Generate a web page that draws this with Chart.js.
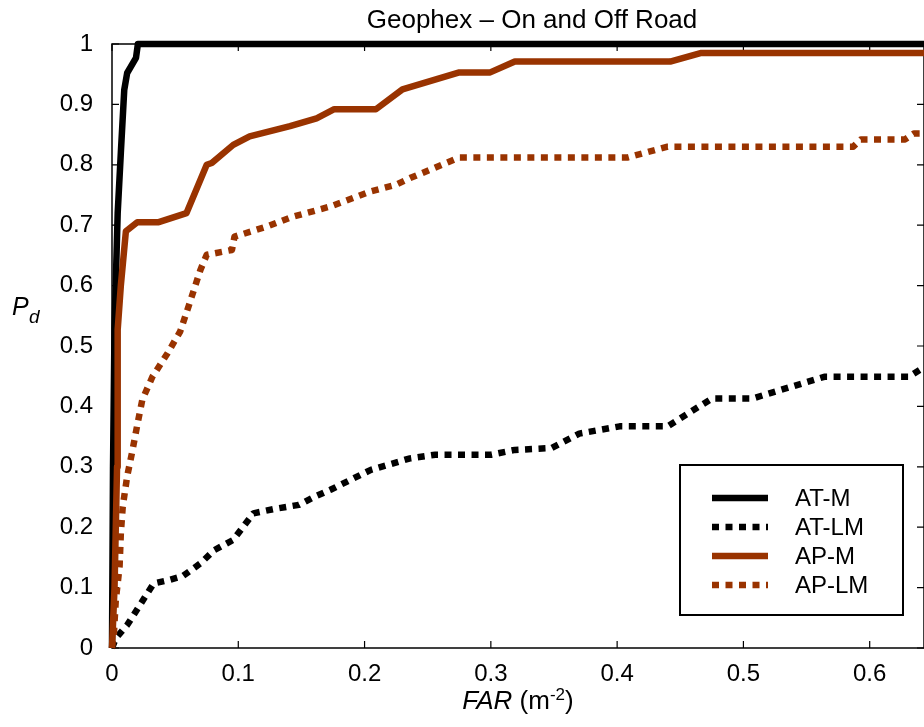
<!DOCTYPE html>
<html>
<head>
<meta charset="utf-8">
<script src="https://cdn.jsdelivr.net/npm/chart.js@4.4.0/dist/chart.umd.js"></script>
<style>
  html, body { margin: 0; padding: 0; background: #fff; }
  #wrap { width: 924px; height: 727px; }
</style>
</head>
<body>
<div id="wrap"><canvas id="chartCanvas" width="924" height="727"></canvas></div>
<script>
// dati (FAR in m^-2, Pd)
const seriesNames = ['AT-M', 'AT-LM', 'AP-M', 'AP-LM'];

const atmFar = [0, 0.0008, 0.002, 0.0045, 0.007, 0.0097, 0.012, 0.019, 0.0205, 0.643];
const atmPd  = [0, 0.30, 0.53, 0.72, 0.82, 0.924, 0.952, 0.977, 1, 1];

const atlmFar = [0, 0.003, 0.012, 0.023, 0.033, 0.046, 0.056, 0.070, 0.081, 0.096, 0.104, 0.112, 0.128, 0.148,
                 0.160, 0.173, 0.205, 0.236, 0.256, 0.300, 0.319, 0.348, 0.370, 0.402, 0.440, 0.475, 0.507,
                 0.564, 0.631, 0.643];
const atlmPd  = [0, 0.016, 0.038, 0.074, 0.107, 0.113, 0.119, 0.140, 0.162, 0.179, 0.201, 0.223, 0.230, 0.237,
                 0.250, 0.262, 0.295, 0.314, 0.320, 0.320, 0.328, 0.331, 0.355, 0.367, 0.367, 0.413, 0.413,
                 0.449, 0.449, 0.465];

const apmFar = [0, 0.002, 0.004, 0.0045, 0.007, 0.011, 0.020, 0.037, 0.059, 0.075, 0.079, 0.096, 0.109, 0.141,
                0.162, 0.176, 0.209, 0.230, 0.275, 0.2995, 0.319, 0.442, 0.466, 0.643];
const apmPd  = [0, 0.10, 0.30, 0.527, 0.60, 0.69, 0.705, 0.705, 0.72, 0.80, 0.803, 0.833, 0.847, 0.864,
                0.877, 0.892, 0.892, 0.925, 0.953, 0.953, 0.971, 0.971, 0.985, 0.985];

const aplmFar = [0, 0.0015, 0.003, 0.006, 0.007, 0.0085, 0.012, 0.016, 0.020, 0.024, 0.032, 0.044, 0.054, 0.061,
                 0.070, 0.075, 0.095, 0.097, 0.123, 0.143, 0.173, 0.205, 0.225, 0.236, 0.275, 0.408, 0.440,
                 0.587, 0.593, 0.628, 0.635, 0.643];
const aplmPd  = [0, 0.024, 0.079, 0.135, 0.19, 0.234, 0.284, 0.325, 0.369, 0.411, 0.449, 0.488, 0.524, 0.568,
                 0.626, 0.651, 0.659, 0.681, 0.698, 0.714, 0.731, 0.756, 0.767, 0.778, 0.812, 0.812, 0.830,
                 0.830, 0.842, 0.842, 0.852, 0.852];

const xTicks = [0, 0.1, 0.2, 0.3, 0.4, 0.5, 0.6];
const xTickLabels = ['0', '0.1', '0.2', '0.3', '0.4', '0.5', '0.6'];
const yTicks = [0, 0.1, 0.2, 0.3, 0.4, 0.5, 0.6, 0.7, 0.8, 0.9, 1];
const yTickLabels = ['0', '0.1', '0.2', '0.3', '0.4', '0.5', '0.6', '0.7', '0.8', '0.9', '1'];

const FONT = '"Liberation Sans", Arial, Helvetica, sans-serif';
const RED = '#993300';
const DOT = [7, 6.5];

const toPoints = (xs, ys) => xs.map((x, i) => ({ x: x, y: ys[i] }));

// cornice + tacche interne stile MATLAB
const framePlugin = {
    id: 'frame',
    beforeDatasetsDraw(chart) {
        const { ctx, chartArea: a, scales } = chart;
        ctx.save();
        ctx.strokeStyle = '#000';
        ctx.lineWidth = 1.5;
        ctx.strokeRect(a.left, a.top, a.right - a.left, a.bottom - a.top);
        ctx.lineWidth = 1.2;
        const len = 7;
        ctx.beginPath();
        xTicks.forEach(v => {
            const px = scales.x.getPixelForValue(v);
            ctx.moveTo(px, a.bottom); ctx.lineTo(px, a.bottom - len);
            ctx.moveTo(px, a.top); ctx.lineTo(px, a.top + len);
        });
        yTicks.forEach(v => {
            const py = scales.y.getPixelForValue(v);
            ctx.moveTo(a.left, py); ctx.lineTo(a.left + len, py);
            ctx.moveTo(a.right, py); ctx.lineTo(a.right - len, py);
        });
        ctx.stroke();
        ctx.restore();
    }
};

// titolo ed etichette degli assi (con pedici/apici)
const labelsPlugin = {
    id: 'labels',
    afterDraw(chart) {
        const ctx = chart.ctx;
        ctx.save();
        ctx.fillStyle = '#000';
        ctx.textBaseline = 'alphabetic';

        ctx.font = '26px ' + FONT;
        ctx.textAlign = 'center';
        ctx.fillText('Geophex \u2013 On and Off Road', 532, 28);

        // FAR (m^-2)
        ctx.textAlign = 'left';
        const parts = [
            { t: 'FAR', f: 'italic 26px ' + FONT, dy: 0 },
            { t: ' (m', f: '26px ' + FONT, dy: 0 },
            { t: '-2', f: '17px ' + FONT, dy: -9 },
            { t: ')', f: '26px ' + FONT, dy: 0 }
        ];
        let total = 0;
        parts.forEach(p => { ctx.font = p.f; p.w = ctx.measureText(p.t).width; total += p.w; });
        let x = 518 - total / 2;
        parts.forEach(p => { ctx.font = p.f; ctx.fillText(p.t, x, 709 + p.dy); x += p.w; });

        // P_d
        ctx.font = 'italic 25px ' + FONT;
        ctx.fillText('P', 12, 315);
        ctx.font = 'italic 19px ' + FONT;
        ctx.fillText('d', 29, 323);
        ctx.restore();
    }
};

// legenda con riquadro dentro l'area del grafico
const legendBoxPlugin = {
    id: 'legendBox',
    afterDraw(chart) {
        const ctx = chart.ctx;
        const box = { x: 680, y: 465, w: 223, h: 150 };
        const rows = [498, 527, 556, 585];
        ctx.save();
        ctx.fillStyle = '#fff';
        ctx.fillRect(box.x, box.y, box.w, box.h);
        ctx.strokeStyle = '#000';
        ctx.lineWidth = 2;
        ctx.strokeRect(box.x, box.y, box.w, box.h);
        chart.data.datasets.forEach((ds, i) => {
            const y = rows[i];
            ctx.beginPath();
            ctx.strokeStyle = ds.borderColor;
            ctx.lineWidth = ds.borderWidth;
            ctx.lineCap = 'butt';
            ctx.setLineDash(ds.borderDash || []);
            ctx.moveTo(712, y);
            ctx.lineTo(768, y);
            ctx.stroke();
            ctx.setLineDash([]);
            ctx.fillStyle = '#000';
            ctx.font = '24px ' + FONT;
            ctx.textAlign = 'left';
            ctx.textBaseline = 'middle';
            ctx.fillText(ds.label, 795, y + 1);
        });
        ctx.restore();
    }
};

const baseDs = { pointRadius: 0, tension: 0, clip: false, borderCapStyle: 'butt', borderJoinStyle: 'round', fill: false };

new Chart(document.getElementById('chartCanvas').getContext('2d'), {
    type: 'line',
    data: {
        datasets: [
            { ...baseDs, label: seriesNames[0], data: toPoints(atmFar, atmPd), borderColor: '#000', borderWidth: 6.5, order: 1 },
            { ...baseDs, label: seriesNames[1], data: toPoints(atlmFar, atlmPd), borderColor: '#000', borderWidth: 6.5, borderDash: DOT, order: 3 },
            { ...baseDs, label: seriesNames[2], data: toPoints(apmFar, apmPd), borderColor: RED, borderWidth: 6.5, order: 0 },
            { ...baseDs, label: seriesNames[3], data: toPoints(aplmFar, aplmPd), borderColor: RED, borderWidth: 6.5, borderDash: DOT, order: 2 }
        ]
    },
    options: {
        responsive: false,
        devicePixelRatio: 1,
        animation: false,
        layout: { padding: { left: 0, right: 0, top: 44, bottom: 0 } },
        plugins: { legend: { display: false }, title: { display: false }, tooltip: { enabled: false } },
        scales: {
            x: {
                type: 'linear',
                min: 0,
                max: 0.643,
                grid: { display: false },
                border: { display: false },
                afterBuildTicks: s => { s.ticks = xTicks.map(v => ({ value: v })); },
                afterFit: s => { s.height = 727 - 648; },
                ticks: {
                    autoSkip: false,
                    maxRotation: 0,
                    padding: 4,
                    color: '#000',
                    font: { family: FONT, size: 24 },
                    callback: (v, i) => xTickLabels[i]
                }
            },
            y: {
                type: 'linear',
                min: 0,
                max: 1,
                grid: { display: false },
                border: { display: false },
                afterBuildTicks: s => { s.ticks = yTicks.map(v => ({ value: v })); },
                afterFit: s => { s.width = 112; },
                ticks: {
                    autoSkip: false,
                    padding: 11,
                    color: '#000',
                    font: { family: FONT, size: 24 },
                    callback: (v, i) => yTickLabels[i]
                }
            }
        }
    },
    plugins: [framePlugin, labelsPlugin, legendBoxPlugin]
});
</script>
</body>
</html>
